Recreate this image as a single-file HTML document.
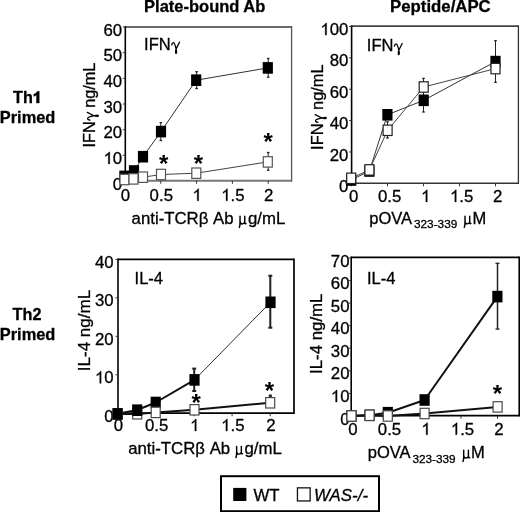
<!DOCTYPE html>
<html><head><meta charset="utf-8"><style>
html,body{margin:0;padding:0;background:#fff;}
svg{display:block;filter:grayscale(1);}
text{font-family:"Liberation Sans", sans-serif;fill:#000;stroke:#000;stroke-width:0.3px;}
</style></head><body>
<svg width="520" height="512" viewBox="0 0 520 512">
<rect width="520" height="512" fill="#fff"/>
<text x="204.7" y="11.6" font-size="16.5" text-anchor="middle" font-weight="bold" font-style="normal" >Plate-bound Ab</text>
<text x="440.4" y="11.6" font-size="16.8" text-anchor="middle" font-weight="bold" font-style="normal" >Peptide/APC</text>
<text x="13.0" y="103.2" font-size="16.2" text-anchor="start" font-weight="bold" font-style="normal" >Th</text>
<path d="M39.3,103.1 L39.3,91.3 L37.3,91.3 C36.6,92.6 35.4,93.6 33.7,94.2 L33.7,96.4 C34.8,96.0 35.7,95.5 36.4,94.9 L36.4,103.1 Z" fill="#000" stroke="#000" stroke-width="0.3"/>
<text x="27.6" y="122.7" font-size="16.4" text-anchor="middle" font-weight="bold" font-style="normal" >Primed</text>
<text x="27" y="319.6" font-size="16.2" text-anchor="middle" font-weight="bold" font-style="normal" >Th2</text>
<text x="27.6" y="339.6" font-size="16.4" text-anchor="middle" font-weight="bold" font-style="normal" >Primed</text>
<line x1="125.3" y1="27" x2="291.6" y2="27" stroke="#6a6a6a" stroke-width="1.9"/>
<line x1="291.6" y1="26.05" x2="291.6" y2="181.8" stroke="#555" stroke-width="1.3"/>
<line x1="125.3" y1="180.8" x2="291.6" y2="180.8" stroke="#777" stroke-width="2.0"/>
<line x1="125.3" y1="26.05" x2="125.3" y2="181.8" stroke="#000" stroke-width="1.6"/>
<line x1="122.8" y1="181.0" x2="125.3" y2="181.0" stroke="#333" stroke-width="1"/>
<text x="112.86" y="189.6" font-size="16.8">0</text>
<line x1="122.8" y1="155.34" x2="125.3" y2="155.34" stroke="#333" stroke-width="1"/>
<path transform="translate(103.52,163.94) scale(1.0000)" d="M6.26,0 L4.78,0 L4.78,-9.41 C4.4,-9.0 3.9,-8.6 3.3,-8.25 C2.7,-7.85 2.2,-7.6 1.83,-7.39 L1.83,-8.82 C2.7,-9.25 3.45,-9.75 4.1,-10.35 C4.75,-10.95 5.2,-11.5 5.5,-12.03 L6.26,-12.03 Z" fill="#000" stroke="#000" stroke-width="0.3"/>
<text x="112.86" y="163.94" font-size="16.8">0</text>
<line x1="122.8" y1="129.68" x2="125.3" y2="129.68" stroke="#333" stroke-width="1"/>
<text x="103.52" y="138.28" font-size="16.8">2</text>
<text x="112.86" y="138.28" font-size="16.8">0</text>
<line x1="122.8" y1="104.02000000000001" x2="125.3" y2="104.02000000000001" stroke="#333" stroke-width="1"/>
<text x="103.52" y="112.62" font-size="16.8">3</text>
<text x="112.86" y="112.62" font-size="16.8">0</text>
<line x1="122.8" y1="78.36000000000001" x2="125.3" y2="78.36000000000001" stroke="#333" stroke-width="1"/>
<text x="103.52" y="86.96000000000001" font-size="16.8">4</text>
<text x="112.86" y="86.96000000000001" font-size="16.8">0</text>
<line x1="122.8" y1="52.70000000000002" x2="125.3" y2="52.70000000000002" stroke="#333" stroke-width="1"/>
<text x="103.52" y="61.30000000000002" font-size="16.8">5</text>
<text x="112.86" y="61.30000000000002" font-size="16.8">0</text>
<line x1="122.8" y1="27.04000000000002" x2="125.3" y2="27.04000000000002" stroke="#333" stroke-width="1"/>
<text x="103.52" y="35.64000000000002" font-size="16.8">6</text>
<text x="112.86" y="35.64000000000002" font-size="16.8">0</text>
<line x1="125.0" y1="180.8" x2="125.0" y2="183.8" stroke="#333" stroke-width="1"/>
<text x="120.83" y="200.8" font-size="16.8">0</text>
<line x1="160.8" y1="180.8" x2="160.8" y2="183.8" stroke="#333" stroke-width="1"/>
<text x="149.62" y="200.8" font-size="16.8">0</text>
<text x="158.96" y="200.8" font-size="16.8">.</text>
<text x="163.64" y="200.8" font-size="16.8">5</text>
<line x1="196.6" y1="180.8" x2="196.6" y2="183.8" stroke="#333" stroke-width="1"/>
<path transform="translate(192.43,200.8) scale(1.0000)" d="M6.26,0 L4.78,0 L4.78,-9.41 C4.4,-9.0 3.9,-8.6 3.3,-8.25 C2.7,-7.85 2.2,-7.6 1.83,-7.39 L1.83,-8.82 C2.7,-9.25 3.45,-9.75 4.1,-10.35 C4.75,-10.95 5.2,-11.5 5.5,-12.03 L6.26,-12.03 Z" fill="#000" stroke="#000" stroke-width="0.3"/>
<line x1="232.39999999999998" y1="180.8" x2="232.39999999999998" y2="183.8" stroke="#333" stroke-width="1"/>
<path transform="translate(221.22,200.8) scale(1.0000)" d="M6.26,0 L4.78,0 L4.78,-9.41 C4.4,-9.0 3.9,-8.6 3.3,-8.25 C2.7,-7.85 2.2,-7.6 1.83,-7.39 L1.83,-8.82 C2.7,-9.25 3.45,-9.75 4.1,-10.35 C4.75,-10.95 5.2,-11.5 5.5,-12.03 L6.26,-12.03 Z" fill="#000" stroke="#000" stroke-width="0.3"/>
<text x="230.56" y="200.8" font-size="16.8">.</text>
<text x="235.24" y="200.8" font-size="16.8">5</text>
<line x1="268.2" y1="180.8" x2="268.2" y2="183.8" stroke="#333" stroke-width="1"/>
<text x="264.03" y="200.8" font-size="16.8">2</text>
<text x="144.1" y="49.9" font-size="16.5">IFN</text>
<path transform="translate(170.6815,49.9)" d="M1.0,-5.0 C1.3,-6.6 2.0,-7.4 2.9,-7.3 C3.9,-7.2 4.4,-5.2 5.4,-1.0 M8.8,-7.7 L5.4,-1.0 C4.9,0.3 4.7,2.0 5.0,3.0 C5.3,3.8 5.9,3.4 5.9,2.4 C5.9,1.2 5.6,0 5.4,-1.0" fill="none" stroke="#000" stroke-width="1.3" stroke-linecap="round" stroke-linejoin="round"/>
<g transform="translate(95.0,147.4) rotate(-90) scale(1.0,1)"><text x="0" y="0" font-size="16.3">IFN</text><path transform="translate(26.2593,0)" d="M1.0,-5.0 C1.3,-6.6 2.0,-7.4 2.9,-7.3 C3.9,-7.2 4.4,-5.2 5.4,-1.0 M8.8,-7.7 L5.4,-1.0 C4.9,0.3 4.7,2.0 5.0,3.0 C5.3,3.8 5.9,3.4 5.9,2.4 C5.9,1.2 5.6,0 5.4,-1.0" fill="none" stroke="#000" stroke-width="1.3" stroke-linecap="round" stroke-linejoin="round"/><text x="39.59" y="0" font-size="16.3">ng/mL</text></g>
<text x="131.6" y="223.8" font-size="16.8" text-anchor="start" font-weight="normal" font-style="normal" >anti-TCR&#946; Ab</text>
<path transform="translate(238.24,223.8)" d="M1.8,-7.6 L1.8,-0.6 M1.8,-1.2 C1.8,1.2 1.6,2.6 1.1,3.6 M1.8,-2.4 C1.9,-0.7 2.8,0.1 3.9,0.1 C5.0,0.1 6.5,-0.8 6.5,-2.2 M6.5,-7.6 L6.5,-0.9 C6.5,-0.1 7.0,0.1 7.7,-0.3" fill="none" stroke="#000" stroke-width="1.45" stroke-linecap="round" stroke-linejoin="round"/>
<text x="247.91" y="223.8" font-size="16.8" text-anchor="start" font-weight="normal" font-style="normal" >g/mL</text>
<line x1="268.2" y1="58.5" x2="268.2" y2="77.2" stroke="#222" stroke-width="1.0"/>
<line x1="266.9" y1="58.5" x2="269.5" y2="58.5" stroke="#222" stroke-width="1.3"/>
<line x1="266.9" y1="77.2" x2="269.5" y2="77.2" stroke="#222" stroke-width="1.3"/>
<line x1="196.6" y1="71.7" x2="196.6" y2="88.5" stroke="#222" stroke-width="1.0"/>
<line x1="195.29999999999998" y1="71.7" x2="197.9" y2="71.7" stroke="#222" stroke-width="1.3"/>
<line x1="195.29999999999998" y1="88.5" x2="197.9" y2="88.5" stroke="#222" stroke-width="1.3"/>
<line x1="160.8" y1="122.6" x2="160.8" y2="140.5" stroke="#222" stroke-width="1.0"/>
<line x1="159.5" y1="122.6" x2="162.10000000000002" y2="122.6" stroke="#222" stroke-width="1.3"/>
<line x1="159.5" y1="140.5" x2="162.10000000000002" y2="140.5" stroke="#222" stroke-width="1.3"/>
<line x1="268.2" y1="152.5" x2="268.2" y2="170.2" stroke="#222" stroke-width="1.0"/>
<line x1="266.9" y1="152.5" x2="269.5" y2="152.5" stroke="#222" stroke-width="1.3"/>
<line x1="266.9" y1="170.2" x2="269.5" y2="170.2" stroke="#222" stroke-width="1.3"/>
<path d="M124.40,176.40 L134.00,171.00 L143.00,156.70 L161.00,131.60 L196.20,80.20 L267.80,67.90" fill="none" stroke="#333" stroke-width="1" stroke-linejoin="round"/>
<path d="M124.50,179.50 L133.50,178.90 L143.00,177.20 L161.00,174.50 L196.30,173.20 L267.80,161.90" fill="none" stroke="#444" stroke-width="1" stroke-linejoin="round"/>
<rect x="119.30" y="170.60" width="10.20" height="11.60" fill="#000" stroke="none" stroke-width="0"/>
<rect x="128.90" y="165.20" width="10.20" height="11.60" fill="#000" stroke="none" stroke-width="0"/>
<rect x="137.90" y="150.90" width="10.20" height="11.60" fill="#000" stroke="none" stroke-width="0"/>
<rect x="155.90" y="125.80" width="10.20" height="11.60" fill="#000" stroke="none" stroke-width="0"/>
<rect x="191.10" y="74.40" width="10.20" height="11.60" fill="#000" stroke="none" stroke-width="0"/>
<rect x="262.70" y="62.10" width="10.20" height="11.60" fill="#000" stroke="none" stroke-width="0"/>
<rect x="120.00" y="174.30" width="9.00" height="10.40" fill="#fff" stroke="#555" stroke-width="1.2"/>
<rect x="129.00" y="173.70" width="9.00" height="10.40" fill="#fff" stroke="#555" stroke-width="1.2"/>
<rect x="138.50" y="172.00" width="9.00" height="10.40" fill="#fff" stroke="#555" stroke-width="1.2"/>
<rect x="156.50" y="169.30" width="9.00" height="10.40" fill="#fff" stroke="#555" stroke-width="1.2"/>
<rect x="191.80" y="168.00" width="9.00" height="10.40" fill="#fff" stroke="#555" stroke-width="1.2"/>
<rect x="263.30" y="156.70" width="9.00" height="10.40" fill="#fff" stroke="#555" stroke-width="1.2"/>
<text x="163.7" y="172.1" font-size="24" text-anchor="middle" font-weight="bold" font-style="normal" style="stroke-width:0">*</text>
<text x="198.3" y="172.1" font-size="24" text-anchor="middle" font-weight="bold" font-style="normal" style="stroke-width:0">*</text>
<text x="268.1" y="149.9" font-size="24" text-anchor="middle" font-weight="bold" font-style="normal" style="stroke-width:0">*</text>
<line x1="351.6" y1="26.1" x2="518.4" y2="26.1" stroke="#444" stroke-width="1.7"/>
<line x1="518.4" y1="25.25" x2="518.4" y2="184.05" stroke="#333" stroke-width="1.3"/>
<line x1="351.6" y1="183.3" x2="518.4" y2="183.3" stroke="#333" stroke-width="1.5"/>
<line x1="351.6" y1="25.25" x2="351.6" y2="184.05" stroke="#000" stroke-width="1.6"/>
<line x1="349.1" y1="183.3" x2="351.6" y2="183.3" stroke="#333" stroke-width="1"/>
<text x="339.06" y="191.9" font-size="16.8">0</text>
<line x1="349.1" y1="151.94" x2="351.6" y2="151.94" stroke="#333" stroke-width="1"/>
<text x="329.72" y="160.54" font-size="16.8">2</text>
<text x="339.06" y="160.54" font-size="16.8">0</text>
<line x1="349.1" y1="120.58000000000001" x2="351.6" y2="120.58000000000001" stroke="#333" stroke-width="1"/>
<text x="329.72" y="129.18" font-size="16.8">4</text>
<text x="339.06" y="129.18" font-size="16.8">0</text>
<line x1="349.1" y1="89.22000000000001" x2="351.6" y2="89.22000000000001" stroke="#333" stroke-width="1"/>
<text x="329.72" y="97.82000000000001" font-size="16.8">6</text>
<text x="339.06" y="97.82000000000001" font-size="16.8">0</text>
<line x1="349.1" y1="57.860000000000014" x2="351.6" y2="57.860000000000014" stroke="#333" stroke-width="1"/>
<text x="329.72" y="66.46000000000001" font-size="16.8">8</text>
<text x="339.06" y="66.46000000000001" font-size="16.8">0</text>
<line x1="349.1" y1="26.5" x2="351.6" y2="26.5" stroke="#333" stroke-width="1"/>
<path transform="translate(320.38,35.1) scale(1.0000)" d="M6.26,0 L4.78,0 L4.78,-9.41 C4.4,-9.0 3.9,-8.6 3.3,-8.25 C2.7,-7.85 2.2,-7.6 1.83,-7.39 L1.83,-8.82 C2.7,-9.25 3.45,-9.75 4.1,-10.35 C4.75,-10.95 5.2,-11.5 5.5,-12.03 L6.26,-12.03 Z" fill="#000" stroke="#000" stroke-width="0.3"/>
<text x="329.72" y="35.1" font-size="16.8">0</text>
<text x="339.06" y="35.1" font-size="16.8">0</text>
<line x1="351.5" y1="183.3" x2="351.5" y2="186.3" stroke="#333" stroke-width="1"/>
<text x="349.03" y="201.9" font-size="16.8">0</text>
<line x1="387.5" y1="183.3" x2="387.5" y2="186.3" stroke="#333" stroke-width="1"/>
<text x="378.02" y="201.9" font-size="16.8">0</text>
<text x="387.36" y="201.9" font-size="16.8">.</text>
<text x="392.04" y="201.9" font-size="16.8">5</text>
<line x1="423.5" y1="183.3" x2="423.5" y2="186.3" stroke="#333" stroke-width="1"/>
<path transform="translate(421.03,201.9) scale(1.0000)" d="M6.26,0 L4.78,0 L4.78,-9.41 C4.4,-9.0 3.9,-8.6 3.3,-8.25 C2.7,-7.85 2.2,-7.6 1.83,-7.39 L1.83,-8.82 C2.7,-9.25 3.45,-9.75 4.1,-10.35 C4.75,-10.95 5.2,-11.5 5.5,-12.03 L6.26,-12.03 Z" fill="#000" stroke="#000" stroke-width="0.3"/>
<line x1="459.5" y1="183.3" x2="459.5" y2="186.3" stroke="#333" stroke-width="1"/>
<path transform="translate(450.02,201.9) scale(1.0000)" d="M6.26,0 L4.78,0 L4.78,-9.41 C4.4,-9.0 3.9,-8.6 3.3,-8.25 C2.7,-7.85 2.2,-7.6 1.83,-7.39 L1.83,-8.82 C2.7,-9.25 3.45,-9.75 4.1,-10.35 C4.75,-10.95 5.2,-11.5 5.5,-12.03 L6.26,-12.03 Z" fill="#000" stroke="#000" stroke-width="0.3"/>
<text x="459.36" y="201.9" font-size="16.8">.</text>
<text x="464.04" y="201.9" font-size="16.8">5</text>
<line x1="495.5" y1="183.3" x2="495.5" y2="186.3" stroke="#333" stroke-width="1"/>
<text x="493.03" y="201.9" font-size="16.8">2</text>
<text x="366.8" y="51.2" font-size="16.5">IFN</text>
<path transform="translate(393.3815,51.2)" d="M1.0,-5.0 C1.3,-6.6 2.0,-7.4 2.9,-7.3 C3.9,-7.2 4.4,-5.2 5.4,-1.0 M8.8,-7.7 L5.4,-1.0 C4.9,0.3 4.7,2.0 5.0,3.0 C5.3,3.8 5.9,3.4 5.9,2.4 C5.9,1.2 5.6,0 5.4,-1.0" fill="none" stroke="#000" stroke-width="1.3" stroke-linecap="round" stroke-linejoin="round"/>
<g transform="translate(322.9,149.9) rotate(-90) scale(1.008,1)"><text x="0" y="0" font-size="16.3">IFN</text><path transform="translate(26.2593,0)" d="M1.0,-5.0 C1.3,-6.6 2.0,-7.4 2.9,-7.3 C3.9,-7.2 4.4,-5.2 5.4,-1.0 M8.8,-7.7 L5.4,-1.0 C4.9,0.3 4.7,2.0 5.0,3.0 C5.3,3.8 5.9,3.4 5.9,2.4 C5.9,1.2 5.6,0 5.4,-1.0" fill="none" stroke="#000" stroke-width="1.3" stroke-linecap="round" stroke-linejoin="round"/><text x="39.59" y="0" font-size="16.3">ng/mL</text></g>
<text x="369.3" y="223.75" font-size="16.5" text-anchor="start" font-weight="normal" font-style="normal" >pOVA</text>
<text x="414.0" y="227.9" font-size="11.8" text-anchor="start" font-weight="normal" font-style="normal" >323-339</text>
<path transform="translate(463.20,223.75)" d="M1.8,-7.6 L1.8,-0.6 M1.8,-1.2 C1.8,1.2 1.6,2.6 1.1,3.6 M1.8,-2.4 C1.9,-0.7 2.8,0.1 3.9,0.1 C5.0,0.1 6.5,-0.8 6.5,-2.2 M6.5,-7.6 L6.5,-0.9 C6.5,-0.1 7.0,0.1 7.7,-0.3" fill="none" stroke="#000" stroke-width="1.45" stroke-linecap="round" stroke-linejoin="round"/>
<text x="472.4" y="223.75" font-size="16.5" text-anchor="start" font-weight="normal" font-style="normal" >M</text>
<line x1="423.5" y1="78.4" x2="423.5" y2="112" stroke="#222" stroke-width="1.0"/>
<line x1="422.2" y1="78.4" x2="424.8" y2="78.4" stroke="#222" stroke-width="1.3"/>
<line x1="422.2" y1="112" x2="424.8" y2="112" stroke="#222" stroke-width="1.3"/>
<line x1="495.5" y1="40.7" x2="495.5" y2="82.3" stroke="#222" stroke-width="1.0"/>
<line x1="494.2" y1="40.7" x2="496.8" y2="40.7" stroke="#222" stroke-width="1.3"/>
<line x1="494.2" y1="82.3" x2="496.8" y2="82.3" stroke="#222" stroke-width="1.3"/>
<line x1="387.5" y1="121.8" x2="387.5" y2="138" stroke="#222" stroke-width="1.0"/>
<line x1="386.2" y1="121.8" x2="388.8" y2="121.8" stroke="#222" stroke-width="1.3"/>
<line x1="386.2" y1="138" x2="388.8" y2="138" stroke="#222" stroke-width="1.3"/>
<path d="M351.20,180.00 L369.40,171.00 L387.40,114.80 L423.70,100.30 L495.50,61.60" fill="none" stroke="#333" stroke-width="1" stroke-linejoin="round"/>
<path d="M351.20,178.30 L369.40,169.90 L387.60,130.30 L423.70,87.00 L495.50,68.60" fill="none" stroke="#444" stroke-width="1" stroke-linejoin="round"/>
<rect x="346.10" y="174.20" width="10.20" height="11.60" fill="#000" stroke="none" stroke-width="0"/>
<rect x="364.30" y="165.20" width="10.20" height="11.60" fill="#000" stroke="none" stroke-width="0"/>
<rect x="382.30" y="109.00" width="10.20" height="11.60" fill="#000" stroke="none" stroke-width="0"/>
<rect x="418.60" y="94.50" width="10.20" height="11.60" fill="#000" stroke="none" stroke-width="0"/>
<rect x="490.40" y="55.80" width="10.20" height="11.60" fill="#000" stroke="none" stroke-width="0"/>
<rect x="346.70" y="173.10" width="9.00" height="10.40" fill="#fff" stroke="#222" stroke-width="1.2"/>
<rect x="364.90" y="164.70" width="9.00" height="10.40" fill="#fff" stroke="#222" stroke-width="1.2"/>
<rect x="383.10" y="125.10" width="9.00" height="10.40" fill="#fff" stroke="#222" stroke-width="1.2"/>
<rect x="419.20" y="81.80" width="9.00" height="10.40" fill="#fff" stroke="#222" stroke-width="1.2"/>
<rect x="491.00" y="63.40" width="9.00" height="10.40" fill="#fff" stroke="#222" stroke-width="1.2"/>
<line x1="118" y1="259.4" x2="294" y2="259.4" stroke="#000" stroke-width="1.6"/>
<line x1="294" y1="258.59999999999997" x2="294" y2="414.09999999999997" stroke="#000" stroke-width="1.7"/>
<line x1="118" y1="413.2" x2="294" y2="413.2" stroke="#000" stroke-width="1.8"/>
<line x1="118" y1="258.59999999999997" x2="118" y2="414.09999999999997" stroke="#000" stroke-width="1.6"/>
<line x1="115.5" y1="413.2" x2="118" y2="413.2" stroke="#333" stroke-width="1"/>
<text x="104.26" y="421.8" font-size="16.8">0</text>
<line x1="115.5" y1="374.75" x2="118" y2="374.75" stroke="#333" stroke-width="1"/>
<path transform="translate(94.92,383.35) scale(1.0000)" d="M6.26,0 L4.78,0 L4.78,-9.41 C4.4,-9.0 3.9,-8.6 3.3,-8.25 C2.7,-7.85 2.2,-7.6 1.83,-7.39 L1.83,-8.82 C2.7,-9.25 3.45,-9.75 4.1,-10.35 C4.75,-10.95 5.2,-11.5 5.5,-12.03 L6.26,-12.03 Z" fill="#000" stroke="#000" stroke-width="0.3"/>
<text x="104.26" y="383.35" font-size="16.8">0</text>
<line x1="115.5" y1="336.29999999999995" x2="118" y2="336.29999999999995" stroke="#333" stroke-width="1"/>
<text x="94.92" y="344.9" font-size="16.8">2</text>
<text x="104.26" y="344.9" font-size="16.8">0</text>
<line x1="115.5" y1="297.84999999999997" x2="118" y2="297.84999999999997" stroke="#333" stroke-width="1"/>
<text x="94.92" y="306.45" font-size="16.8">3</text>
<text x="104.26" y="306.45" font-size="16.8">0</text>
<line x1="115.5" y1="259.4" x2="118" y2="259.4" stroke="#333" stroke-width="1"/>
<text x="94.92" y="268.0" font-size="16.8">4</text>
<text x="104.26" y="268.0" font-size="16.8">0</text>
<line x1="117.8" y1="413.2" x2="117.8" y2="416.2" stroke="#333" stroke-width="1"/>
<text x="113.83" y="431.0" font-size="16.8">0</text>
<line x1="155.9" y1="413.2" x2="155.9" y2="416.2" stroke="#333" stroke-width="1"/>
<text x="144.92" y="431.0" font-size="16.8">0</text>
<text x="154.26" y="431.0" font-size="16.8">.</text>
<text x="158.94" y="431.0" font-size="16.8">5</text>
<line x1="194.0" y1="413.2" x2="194.0" y2="416.2" stroke="#333" stroke-width="1"/>
<path transform="translate(190.03,431.0) scale(1.0000)" d="M6.26,0 L4.78,0 L4.78,-9.41 C4.4,-9.0 3.9,-8.6 3.3,-8.25 C2.7,-7.85 2.2,-7.6 1.83,-7.39 L1.83,-8.82 C2.7,-9.25 3.45,-9.75 4.1,-10.35 C4.75,-10.95 5.2,-11.5 5.5,-12.03 L6.26,-12.03 Z" fill="#000" stroke="#000" stroke-width="0.3"/>
<line x1="232.10000000000002" y1="413.2" x2="232.10000000000002" y2="416.2" stroke="#333" stroke-width="1"/>
<path transform="translate(221.12,431.0) scale(1.0000)" d="M6.26,0 L4.78,0 L4.78,-9.41 C4.4,-9.0 3.9,-8.6 3.3,-8.25 C2.7,-7.85 2.2,-7.6 1.83,-7.39 L1.83,-8.82 C2.7,-9.25 3.45,-9.75 4.1,-10.35 C4.75,-10.95 5.2,-11.5 5.5,-12.03 L6.26,-12.03 Z" fill="#000" stroke="#000" stroke-width="0.3"/>
<text x="230.46" y="431.0" font-size="16.8">.</text>
<text x="235.14" y="431.0" font-size="16.8">5</text>
<line x1="270.2" y1="413.2" x2="270.2" y2="416.2" stroke="#333" stroke-width="1"/>
<text x="266.23" y="431.0" font-size="16.8">2</text>
<text x="134.6" y="284.2" font-size="16.5" text-anchor="start" font-weight="normal" font-style="normal" >IL-4</text>
<text transform="translate(89.6,371.2) rotate(-90) scale(1.045,1)" font-size="16.3">IL-4 ng/mL</text>
<text x="128.2" y="454" font-size="16.8" text-anchor="start" font-weight="normal" font-style="normal" >anti-TCR&#946; Ab</text>
<path transform="translate(234.84,454)" d="M1.8,-7.6 L1.8,-0.6 M1.8,-1.2 C1.8,1.2 1.6,2.6 1.1,3.6 M1.8,-2.4 C1.9,-0.7 2.8,0.1 3.9,0.1 C5.0,0.1 6.5,-0.8 6.5,-2.2 M6.5,-7.6 L6.5,-0.9 C6.5,-0.1 7.0,0.1 7.7,-0.3" fill="none" stroke="#000" stroke-width="1.45" stroke-linecap="round" stroke-linejoin="round"/>
<text x="244.50999999999996" y="454" font-size="16.8" text-anchor="start" font-weight="normal" font-style="normal" >g/mL</text>
<line x1="270.3" y1="275.7" x2="270.3" y2="327.7" stroke="#222" stroke-width="2"/>
<line x1="268.3" y1="275.7" x2="272.3" y2="275.7" stroke="#222" stroke-width="2"/>
<line x1="268.3" y1="327.7" x2="272.3" y2="327.7" stroke="#222" stroke-width="2"/>
<line x1="194.2" y1="368.6" x2="194.2" y2="391.0" stroke="#222" stroke-width="2"/>
<line x1="192.2" y1="368.6" x2="196.2" y2="368.6" stroke="#222" stroke-width="2"/>
<line x1="192.2" y1="391.0" x2="196.2" y2="391.0" stroke="#222" stroke-width="2"/>
<line x1="270.3" y1="395.5" x2="270.3" y2="397" stroke="#222" stroke-width="1.5"/>
<line x1="268.8" y1="395.5" x2="271.8" y2="395.5" stroke="#222" stroke-width="2"/>
<line x1="268.8" y1="397" x2="271.8" y2="397" stroke="#222" stroke-width="2"/>
<path d="M117.60,414.00 L137.20,414.00 L155.70,412.50 L194.50,409.80 L270.20,402.80" fill="none" stroke="#111" stroke-width="2" stroke-linejoin="round"/>
<path d="M117.60,413.70 L137.20,410.00 L155.70,402.50 L194.50,379.90" fill="none" stroke="#111" stroke-width="2" stroke-linejoin="round"/>
<path d="M194.50,379.90 L270.50,302.30" fill="none" stroke="#333" stroke-width="1" stroke-linejoin="round"/>
<rect x="113.10" y="408.80" width="9.00" height="10.40" fill="#fff" stroke="#4a4a4a" stroke-width="1.2"/>
<rect x="132.70" y="408.60" width="9.00" height="10.40" fill="#fff" stroke="#4a4a4a" stroke-width="1.2"/>
<rect x="112.50" y="408.10" width="10.20" height="11.60" fill="#000" stroke="none" stroke-width="0"/>
<rect x="132.10" y="404.40" width="10.20" height="11.60" fill="#000" stroke="none" stroke-width="0"/>
<rect x="150.60" y="396.70" width="10.20" height="11.60" fill="#000" stroke="none" stroke-width="0"/>
<rect x="151.20" y="407.20" width="9.00" height="10.40" fill="#fff" stroke="#4a4a4a" stroke-width="1.2"/>
<rect x="189.40" y="374.10" width="10.20" height="11.60" fill="#000" stroke="none" stroke-width="0"/>
<rect x="190.00" y="404.60" width="9.00" height="10.40" fill="#fff" stroke="#4a4a4a" stroke-width="1.2"/>
<rect x="265.40" y="296.50" width="10.20" height="11.60" fill="#000" stroke="none" stroke-width="0"/>
<rect x="265.70" y="397.60" width="9.00" height="10.40" fill="#fff" stroke="#4a4a4a" stroke-width="1.2"/>
<text x="196.2" y="411.2" font-size="24" text-anchor="middle" font-weight="bold" font-style="normal" style="stroke-width:0">*</text>
<text x="269.4" y="399.3" font-size="24" text-anchor="middle" font-weight="bold" font-style="normal" style="stroke-width:0">*</text>
<line x1="351.2" y1="257.3" x2="519.2" y2="257.3" stroke="#000" stroke-width="1.7"/>
<line x1="519.2" y1="256.45" x2="519.2" y2="416.59999999999997" stroke="#000" stroke-width="1.6"/>
<line x1="351.2" y1="415.7" x2="519.2" y2="415.7" stroke="#000" stroke-width="1.8"/>
<line x1="351.2" y1="256.45" x2="351.2" y2="416.59999999999997" stroke="#000" stroke-width="1.6"/>
<line x1="348.7" y1="416.0" x2="351.2" y2="416.0" stroke="#333" stroke-width="1"/>
<text x="340.16" y="424.6" font-size="16.8">0</text>
<line x1="348.7" y1="393.43" x2="351.2" y2="393.43" stroke="#333" stroke-width="1"/>
<path transform="translate(330.82,402.03000000000003) scale(1.0000)" d="M6.26,0 L4.78,0 L4.78,-9.41 C4.4,-9.0 3.9,-8.6 3.3,-8.25 C2.7,-7.85 2.2,-7.6 1.83,-7.39 L1.83,-8.82 C2.7,-9.25 3.45,-9.75 4.1,-10.35 C4.75,-10.95 5.2,-11.5 5.5,-12.03 L6.26,-12.03 Z" fill="#000" stroke="#000" stroke-width="0.3"/>
<text x="340.16" y="402.03000000000003" font-size="16.8">0</text>
<line x1="348.7" y1="370.86" x2="351.2" y2="370.86" stroke="#333" stroke-width="1"/>
<text x="330.82" y="379.46000000000004" font-size="16.8">2</text>
<text x="340.16" y="379.46000000000004" font-size="16.8">0</text>
<line x1="348.7" y1="348.28999999999996" x2="351.2" y2="348.28999999999996" stroke="#333" stroke-width="1"/>
<text x="330.82" y="356.89" font-size="16.8">3</text>
<text x="340.16" y="356.89" font-size="16.8">0</text>
<line x1="348.7" y1="325.72" x2="351.2" y2="325.72" stroke="#333" stroke-width="1"/>
<text x="330.82" y="334.32000000000005" font-size="16.8">4</text>
<text x="340.16" y="334.32000000000005" font-size="16.8">0</text>
<line x1="348.7" y1="303.15" x2="351.2" y2="303.15" stroke="#333" stroke-width="1"/>
<text x="330.82" y="311.75" font-size="16.8">5</text>
<text x="340.16" y="311.75" font-size="16.8">0</text>
<line x1="348.7" y1="280.58" x2="351.2" y2="280.58" stroke="#333" stroke-width="1"/>
<text x="330.82" y="289.18" font-size="16.8">6</text>
<text x="340.16" y="289.18" font-size="16.8">0</text>
<line x1="348.7" y1="258.01" x2="351.2" y2="258.01" stroke="#333" stroke-width="1"/>
<text x="330.82" y="266.61" font-size="16.8">7</text>
<text x="340.16" y="266.61" font-size="16.8">0</text>
<line x1="351.5" y1="415.7" x2="351.5" y2="418.7" stroke="#333" stroke-width="1"/>
<text x="348.33" y="434.7" font-size="16.8">0</text>
<line x1="388.0" y1="415.7" x2="388.0" y2="418.7" stroke="#333" stroke-width="1"/>
<text x="377.82" y="434.7" font-size="16.8">0</text>
<text x="387.16" y="434.7" font-size="16.8">.</text>
<text x="391.84" y="434.7" font-size="16.8">5</text>
<line x1="424.5" y1="415.7" x2="424.5" y2="418.7" stroke="#333" stroke-width="1"/>
<path transform="translate(421.33,434.7) scale(1.0000)" d="M6.26,0 L4.78,0 L4.78,-9.41 C4.4,-9.0 3.9,-8.6 3.3,-8.25 C2.7,-7.85 2.2,-7.6 1.83,-7.39 L1.83,-8.82 C2.7,-9.25 3.45,-9.75 4.1,-10.35 C4.75,-10.95 5.2,-11.5 5.5,-12.03 L6.26,-12.03 Z" fill="#000" stroke="#000" stroke-width="0.3"/>
<line x1="461.0" y1="415.7" x2="461.0" y2="418.7" stroke="#333" stroke-width="1"/>
<path transform="translate(450.82,434.7) scale(1.0000)" d="M6.26,0 L4.78,0 L4.78,-9.41 C4.4,-9.0 3.9,-8.6 3.3,-8.25 C2.7,-7.85 2.2,-7.6 1.83,-7.39 L1.83,-8.82 C2.7,-9.25 3.45,-9.75 4.1,-10.35 C4.75,-10.95 5.2,-11.5 5.5,-12.03 L6.26,-12.03 Z" fill="#000" stroke="#000" stroke-width="0.3"/>
<text x="460.16" y="434.7" font-size="16.8">.</text>
<text x="464.84" y="434.7" font-size="16.8">5</text>
<line x1="497.5" y1="415.7" x2="497.5" y2="418.7" stroke="#333" stroke-width="1"/>
<text x="494.33" y="434.7" font-size="16.8">2</text>
<text x="367" y="283.8" font-size="16.5" text-anchor="start" font-weight="normal" font-style="normal" >IL-4</text>
<text transform="translate(321.7,374.0) rotate(-90) scale(1.033,1)" font-size="16.3">IL-4 ng/mL</text>
<text x="367.8" y="457.9" font-size="16.5" text-anchor="start" font-weight="normal" font-style="normal" >pOVA</text>
<text x="412.4" y="462.5" font-size="11.8" text-anchor="start" font-weight="normal" font-style="normal" >323-339</text>
<path transform="translate(461.90,457.9)" d="M1.8,-7.6 L1.8,-0.6 M1.8,-1.2 C1.8,1.2 1.6,2.6 1.1,3.6 M1.8,-2.4 C1.9,-0.7 2.8,0.1 3.9,0.1 C5.0,0.1 6.5,-0.8 6.5,-2.2 M6.5,-7.6 L6.5,-0.9 C6.5,-0.1 7.0,0.1 7.7,-0.3" fill="none" stroke="#000" stroke-width="1.45" stroke-linecap="round" stroke-linejoin="round"/>
<text x="471.0" y="457.9" font-size="16.5" text-anchor="start" font-weight="normal" font-style="normal" >M</text>
<line x1="497.5" y1="263.3" x2="497.5" y2="329.1" stroke="#222" stroke-width="1.5"/>
<line x1="495.5" y1="263.3" x2="499.5" y2="263.3" stroke="#222" stroke-width="1.3"/>
<line x1="495.5" y1="329.1" x2="499.5" y2="329.1" stroke="#222" stroke-width="1.3"/>
<path d="M351.50,416.00 L369.60,415.30 L387.80,412.70 L424.60,400.00 L497.40,296.60" fill="none" stroke="#111" stroke-width="2" stroke-linejoin="round"/>
<path d="M351.50,416.00 L369.60,415.30 L387.80,416.00 L424.60,413.50 L497.60,406.90" fill="none" stroke="#111" stroke-width="2" stroke-linejoin="round"/>
<rect x="346.40" y="410.20" width="10.20" height="11.60" fill="#000" stroke="none" stroke-width="0"/>
<rect x="364.50" y="409.50" width="10.20" height="11.60" fill="#000" stroke="none" stroke-width="0"/>
<rect x="382.70" y="406.90" width="10.20" height="11.60" fill="#000" stroke="none" stroke-width="0"/>
<rect x="419.50" y="394.20" width="10.20" height="11.60" fill="#000" stroke="none" stroke-width="0"/>
<rect x="492.30" y="290.80" width="10.20" height="11.60" fill="#000" stroke="none" stroke-width="0"/>
<rect x="347.00" y="410.80" width="9.00" height="10.40" fill="#fff" stroke="#4a4a4a" stroke-width="1.2"/>
<rect x="365.10" y="410.10" width="9.00" height="10.40" fill="#fff" stroke="#4a4a4a" stroke-width="1.2"/>
<rect x="383.30" y="410.80" width="9.00" height="10.40" fill="#fff" stroke="#4a4a4a" stroke-width="1.2"/>
<rect x="420.10" y="408.30" width="9.00" height="10.40" fill="#fff" stroke="#4a4a4a" stroke-width="1.2"/>
<rect x="493.10" y="401.70" width="9.00" height="10.40" fill="#fff" stroke="#4a4a4a" stroke-width="1.2"/>
<text x="497.4" y="402.4" font-size="24" text-anchor="middle" font-weight="bold" font-style="normal" style="stroke-width:0">*</text>
<rect x="221.00" y="476.20" width="158.00" height="35.00" fill="none" stroke="#000" stroke-width="2"/>
<rect x="233.20" y="487.90" width="13.20" height="13.10" fill="#000" stroke="none" stroke-width="0"/>
<text x="253.4" y="500.9" font-size="16.8" text-anchor="start" font-weight="normal" font-style="normal" >WT</text>
<rect x="297.45" y="487.85" width="12.70" height="13.10" fill="#fff" stroke="#111" stroke-width="1.3"/>
<text x="313.9" y="501.1" font-size="16.9" text-anchor="start" font-weight="normal" font-style="italic" >WAS-/-</text>
</svg>
</body></html>
